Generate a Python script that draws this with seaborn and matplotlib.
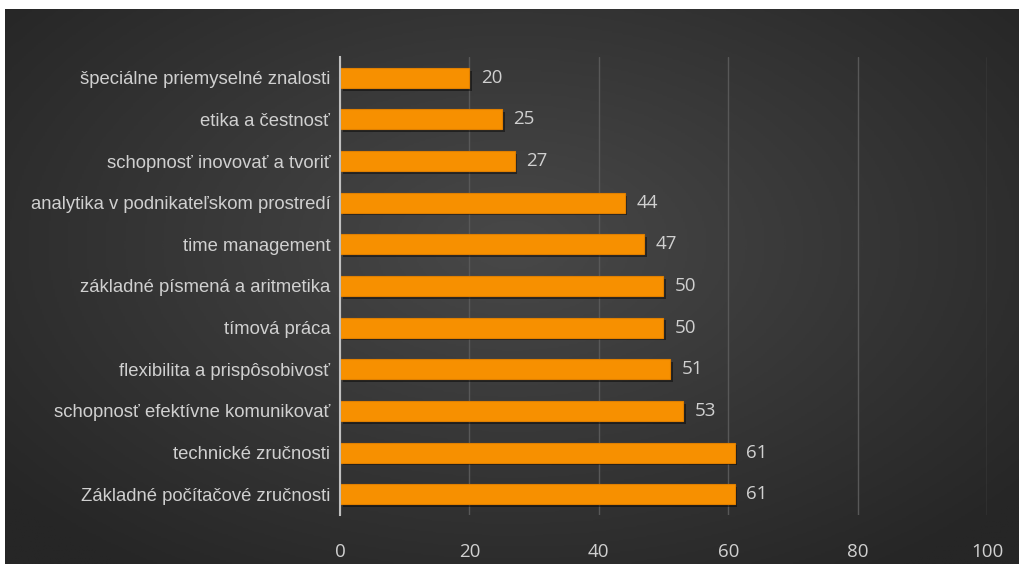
import numpy as np
import pandas as pd
import matplotlib
matplotlib.use("Agg")
import matplotlib.pyplot as plt
import matplotlib.patheffects as pe
import seaborn as sns

skills = [
    "špeciálne priemyselné znalosti",
    "etika a čestnosť",
    "schopnosť inovovať a tvoriť",
    "analytika v podnikateľskom prostredí",
    "time management",
    "základné písmená a aritmetika",
    "tímová práca",
    "flexibilita a prispôsobivosť",
    "schopnosť efektívne komunikovať",
    "technické zručnosti",
    "Základné počítačové zručnosti",
]
scores = [20, 25, 27, 44, 47, 50, 50, 51, 53, 61, 61]
x_ticks = [0, 20, 40, 60, 80, 100]

sns.set_theme(style="white")
plt.rcParams["font.family"] = ["Liberation Sans", "DejaVu Sans"]

df = pd.DataFrame({"skill": skills, "score": scores})

fig = plt.figure(figsize=(10.2, 5.64), dpi=100)
fig.patch.set_facecolor("white")

# dark radial-gradient backdrop
bg = fig.add_axes([5 / 1020, 0, 1 - 5 / 1020, 1 - 9 / 564])
yy, xx = np.mgrid[-1:1:300j, -1:1:500j]
r = np.sqrt((xx / 1.0) ** 2 + ((yy + 0.15) / 1.1) ** 2)
grad = np.clip(1 - r / 1.3, 0, 1)
bg.imshow(grad, cmap=matplotlib.colors.LinearSegmentedColormap.from_list(
    "bg", ["#262626", "#484848"]), aspect="auto", extent=[0, 1, 0, 1])
bg.axis("off")

ax = fig.add_axes([340 / 1020, 1 - 515 / 564, (987 - 340) / 1020, (515 - 57) / 564])
ax.patch.set_alpha(0)

sns.barplot(data=df, x="score", y="skill", orient="h", color="#F79000", saturation=1,
            width=0.48, edgecolor="#E07F00", linewidth=0.8, ax=ax, zorder=3)
for bar in ax.patches:
    bar.set_path_effects([pe.SimplePatchShadow(offset=(2, -2), alpha=0.45, shadow_rgbFace="black"),
                          pe.Normal()])

ax.set_xlim(0, 100)
ax.set_ylim(len(skills) - 0.5, -0.5)
ax.set_xticks(x_ticks)
ax.grid(axis="x", color="#585858", linewidth=1.0, zorder=0)
ax.set_axisbelow(True)
for s in ["top", "right", "bottom"]:
    ax.spines[s].set_visible(False)
ax.spines["left"].set_color("#bfbfbf")
ax.spines["left"].set_linewidth(1.5)
ax.spines["left"].set_zorder(4)

ax.tick_params(axis="x", colors="#d0d0d0", labelsize=13.5, length=0, pad=20)
ax.tick_params(axis="y", colors="#d0d0d0", labelsize=13.3, length=0, pad=7)
for lab in ax.get_xticklabels():
    lab.set_family(["Open Sans", "DejaVu Sans"])
ax.set_xlabel("")
ax.set_ylabel("")

for i, v in enumerate(scores):
    ax.text(v + 1.8, i, str(v), va="center", ha="left", color="#d0d0d0",
            fontsize=13.5, family=["Open Sans", "DejaVu Sans"])

fig.savefig("out.png", dpi=100)
